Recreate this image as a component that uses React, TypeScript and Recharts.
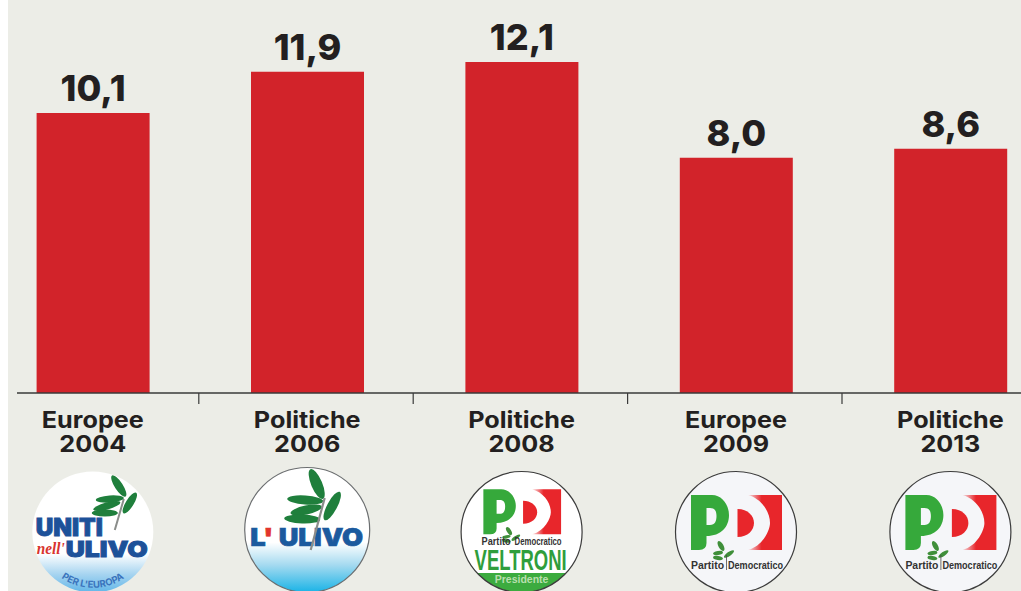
import React from 'react';
import { BarChart, Bar, XAxis, YAxis, LabelList } from 'recharts';

const elections = ['Europee', 'Politiche', 'Politiche', 'Europee', 'Politiche'];
const years = ['2004', '2006', '2008', '2009', '2013'];
// printed figures; the bars in the original are not quite drawn to scale
const printedValues = ['10,1', '11,9', '12,1', '8,0', '8,6'];
const barValues = [10.22, 11.72, 12.08, 8.58, 8.91];

const chartData = years.map((year, i) => ({
  key: year,
  election: elections[i],
  year,
  printed: printedValues[i],
  value: barValues[i],
}));

const TEXT = '#231f20';
const AXIS = '#3a3a3a';
const FONT = 'Inter, sans-serif';
const NARROW = '"Liberation Sans Narrow", sans-serif';
const ULIVO_BLUE = '#1d5199';
const LEAF = '#1f7f3c';

const Leaf = ({ x, y, rx, ry, angle, fill = LEAF }: any) => (
  <ellipse cx={x} cy={y} rx={rx} ry={ry} fill={fill} transform={`rotate(${angle} ${x} ${y})`} />
);

const UnitiLogo = ({ id }: { id: string }) => (
  <g>
    <defs>
      <clipPath id={`${id}-clip`}>
        <circle r={60.5} />
      </clipPath>
      <linearGradient id={`${id}-sky`} x1="0" y1="0" x2="0" y2="1">
        <stop offset="0.68" stopColor="#ffffff" />
        <stop offset="0.85" stopColor="#a6d4f0" />
        <stop offset="1" stopColor="#62b6e8" />
      </linearGradient>
      <path id={`${id}-arc`} d="M -39 40 A 56 56 0 0 0 39 40" />
    </defs>
    <circle r={60.5} fill={`url(#${id}-sky)`} />
    <g clipPath={`url(#${id}-clip)`}>
      <line x1={22} y1={-2} x2={31} y2={-33} stroke="#8a8d8a" strokeWidth={2} />
      <Leaf x={26} y={-46} rx={12.5} ry={4} angle={57} />
      <Leaf x={37} y={-29} rx={12} ry={4} angle={-58} />
      <Leaf x={17} y={-33} rx={14} ry={3.5} angle={-4} />
      <Leaf x={14} y={-26} rx={14} ry={3.5} angle={-15} />
      <Leaf x={12} y={-19} rx={13} ry={3.5} angle={0} />
      <text x={-57} y={4} fontFamily={FONT} fontWeight={900} fontSize={24} fill={ULIVO_BLUE} stroke={ULIVO_BLUE} strokeWidth={0.9} textLength={67} lengthAdjust="spacingAndGlyphs">UNITI</text>
      <text x={-27} y={24.5} fontFamily={FONT} fontWeight={900} fontSize={22} fill={ULIVO_BLUE} stroke={ULIVO_BLUE} strokeWidth={0.9} textLength={82} lengthAdjust="spacingAndGlyphs">ULIVO</text>
      <text x={-56} y={22} fontFamily="Liberation Serif, serif" fontStyle="italic" fontWeight={700} fontSize={17} fill="#d9342f" textLength={28} lengthAdjust="spacingAndGlyphs">nell'</text>
      <text fontFamily={FONT} fontWeight={700} fontSize={9.5} fill="#3a74bd">
        <textPath href={`#${id}-arc`} startOffset="50%" textAnchor="middle">PER L'EUROPA</textPath>
      </text>
    </g>
  </g>
);

const UlivoLogo = ({ id }: { id: string }) => (
  <g>
    <defs>
      <linearGradient id={`${id}-sky`} x1="0" y1="0" x2="0" y2="1">
        <stop offset="0.6" stopColor="#ffffff" />
        <stop offset="0.78" stopColor="#a5daf0" />
        <stop offset="1" stopColor="#19b3e6" />
      </linearGradient>
    </defs>
    <circle r={62.5} fill={`url(#${id}-sky)`} stroke="#6b6e70" strokeWidth={1.2} />
    <Leaf x={9.5} y={-46} rx={16} ry={5.5} angle={67} />
    <Leaf x={25} y={-24} rx={16} ry={5} angle={-62} />
    <Leaf x={-2} y={-30} rx={18} ry={4.5} angle={4} />
    <Leaf x={-1} y={-20} rx={16} ry={4.5} angle={-12} />
    <Leaf x={-5} y={-11} rx={18} ry={4.5} angle={2} />
    <text x={-57} y={16} fontFamily={FONT} fontWeight={900} fontSize={25} fill="#1b5a9e" stroke="#1b5a9e" strokeWidth={0.7} textLength={113} lengthAdjust="spacingAndGlyphs">
      L<tspan fill="#e2352d" stroke="#e2352d">'</tspan> ULIVO
    </text>
    <line x1={3.5} y1={20} x2={17.5} y2={-32} stroke="#8a8d8a" strokeWidth={2.2} />
  </g>
);

// the PD mark, drawn around the centre of the badge
const PdMark = ({ id }: { id: string }) => (
  <g>
    <defs>
      <linearGradient id={`${id}-fade`} x1="0" y1="0" x2="1" y2="0">
        <stop offset="0" stopColor="#e8262b" stopOpacity={0.1} />
        <stop offset="0.4" stopColor="#e8262b" />
      </linearGradient>
    </defs>
    <path
      fillRule="evenodd"
      d="M -45 -37 H -24 C -14 -37 -7 -27 -7 -17 C -7 -5 -15 4 -29.5 4 V 11 Q -29.5 18 -37 18 H -45 Z M -29.5 -24 V -7 H -26 C -21 -7 -19.5 -11 -19.5 -16 C -19.5 -21 -21 -24 -26 -24 Z"
      fill="#36a93b"
    />
    <path d="M 12 -37 H 46 V 18 H 12 C 27 14 34 -2 34 -9 C 34 -20 26 -33 12 -37 Z" fill={`url(#${id}-fade)`} />
    <path d="M 1.5 -23 C 12 -23 18 -16 18 -9 C 18 -2 12 5 1.5 5 Z" fill="#e8262b" />
    <Leaf x={-15} y={14} rx={5.5} ry={2.5} angle={60} fill="#3f8f3a" />
    <Leaf x={-7} y={22} rx={6} ry={2} angle={-35} fill="#3f8f3a" />
    <Leaf x={-18} y={21} rx={5} ry={2} angle={-10} fill="#3f8f3a" />
    <Leaf x={-18} y={26} rx={5} ry={2} angle={10} fill="#3f8f3a" />
  </g>
);

const PdLogo = ({ id }: { id: string }) => (
  <g>
    <circle r={60.5} fill="#f5f6f9" stroke="#3c3c3c" strokeWidth={1.2} />
    <PdMark id={id} />
    <line x1={-9.5} y1={23} x2={-9.5} y2={38} stroke="#4a4a4a" strokeWidth={0.8} />
    <text x={-45} y={37} fontFamily={NARROW} fontWeight={700} fontSize={11.5} fill="#333" textLength={33} lengthAdjust="spacingAndGlyphs">Partito</text>
    <text x={-8} y={37} fontFamily={NARROW} fontWeight={700} fontSize={11.5} fill="#333" textLength={55} lengthAdjust="spacingAndGlyphs">Democratico</text>
  </g>
);

const VeltroniLogo = ({ id }: { id: string }) => (
  <g>
    <defs>
      <clipPath id={`${id}-clip`}>
        <circle r={60.5} />
      </clipPath>
    </defs>
    <circle r={60.5} fill="#ffffff" />
    <g clipPath={`url(#${id}-clip)`}>
      <rect x={-61} y={41} width={122} height={21} fill="#3cab3f" />
    </g>
    <circle r={60.5} fill="none" stroke="#3c3c3c" strokeWidth={1.2} />
    <g transform="translate(0.2 -12.4) scale(0.854 0.82)">
      <PdMark id={id} />
    </g>
    <text x={-40} y={13} fontFamily={NARROW} fontWeight={700} fontSize={10} fill="#333" textLength={29} lengthAdjust="spacingAndGlyphs">Partito</text>
    <text x={-7} y={13} fontFamily={NARROW} fontWeight={700} fontSize={10} fill="#333" textLength={47} lengthAdjust="spacingAndGlyphs">Democratico</text>
    <text x={-47} y={38} fontFamily={NARROW} fontWeight={700} fontSize={29} fill="#2f9e3c" textLength={92} lengthAdjust="spacingAndGlyphs">VELTRONI</text>
    <text x={0} y={51} textAnchor="middle" fontFamily={NARROW} fontWeight={700} fontSize={10.5} fill="#b9dfae">Presidente</text>
  </g>
);

const labelStyle = { fontFamily: FONT, fontWeight: 700, fontSize: 22.5, fill: TEXT };

// label, badge and the separator mark at the right edge of each band
const ElectionTick = ({ x, y, index }: any) => {
  const row = chartData[index];
  const id = `logo-${row.year}`;
  return (
    <g transform={`translate(${x} ${y})`}>
      {index < years.length - 1 && <line x1={106} y1={0} x2={106} y2={11} stroke={AXIS} strokeWidth={1.2} />}
      <g transform="scale(1.12 1)">
        <text y={35} textAnchor="middle" style={labelStyle}>{row.election}</text>
        <text y={59} textAnchor="middle" style={labelStyle}>{row.year}</text>
      </g>
      <g transform={`translate(0 ${index === 1 ? 137 : 139})`}>
        {index === 0 && <UnitiLogo id={id} />}
        {index === 1 && <UlivoLogo id={id} />}
        {index === 2 && <VeltroniLogo id={id} />}
        {index > 2 && <PdLogo id={id} />}
      </g>
    </g>
  );
};

const padding = { left: -31.4, right: -36.6 };

export default function App() {
  return (
    <div style={{ position: 'absolute', left: 0, top: 0, width: 1021, height: 591, background: '#fff', overflow: 'hidden' }}>
      <div style={{ position: 'absolute', left: 8, top: 0, width: 1013, height: 591, background: '#ecede7' }} />
      <div style={{ position: 'absolute', left: 0, top: 0 }}>
        <BarChart width={1021} height={591} data={chartData} margin={{ top: 0, right: 0, bottom: 0, left: 17 }} barCategoryGap={0}>
          <YAxis hide domain={[0, 14.34]} />
          <XAxis
            dataKey="key"
            height={198}
            padding={padding}
            axisLine={{ stroke: AXIS, strokeWidth: 1.5 }}
            tickLine={false}
            tickSize={0}
            tickMargin={0}
            interval={0}
            tick={<ElectionTick />}
          />
          <Bar dataKey="value" fill="#d2232a" barSize={113} isAnimationActive={false}>
            <LabelList
              dataKey="printed"
              position="top"
              offset={12}
              style={{ fontFamily: FONT, fontWeight: 800, fontSize: 36, fill: TEXT }}
            />
          </Bar>
        </BarChart>
      </div>
    </div>
  );
}
